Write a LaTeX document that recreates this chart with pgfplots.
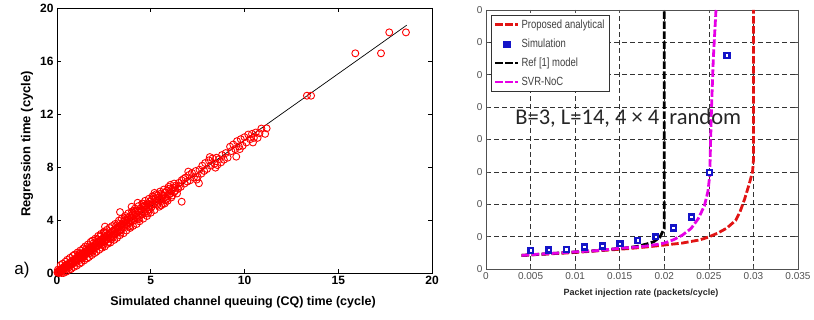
\documentclass[border=0pt]{standalone}
\usepackage{fontspec}
\setmainfont{Liberation Sans}
\setsansfont{Liberation Sans}
\newfontfamily\calfont{Carlito}
\usepackage{pgfplots}
\usepackage{pgfplotstable}
\pgfplotsset{compat=1.18}
\definecolor{simblue}{RGB}{20,20,200}
\definecolor{svrmag}{RGB}{230,0,230}
\definecolor{anared}{RGB}{225,20,20}
\definecolor{tickgray}{RGB}{80,80,80}
\pgfplotsset{
    longline legend/.style={legend image code/.code={\draw[##1] (0pt,0pt) -- (23pt,0pt);}},
    onemark legend/.style={legend image code/.code={\draw[##1] plot coordinates {(11.5pt,0pt)};}},
}
\newcommand{\tall}[1]{\scalebox{1}[1.25]{#1}}

% regression scatter: simulated CQ time vs regression time
\pgfplotstableread{
x y
0.02 0.05
0.05 0.02
0.05 0.25
0.08 0.15
0.10 0.04
0.12 0.01
0.13 0.20
0.15 0.10
0.18 0.06
0.20 0.28
0.20 0.60
0.23 0.18
0.25 0.12
0.25 0.00
0.28 0.35
0.30 0.22
0.30 0.70
0.33 0.30
0.35 0.45
0.35 0.00
0.38 0.28
0.40 0.40
0.43 0.52
0.45 0.36
0.45 0.85
0.48 0.44
0.50 0.60
0.50 0.10
0.53 0.48
0.55 1.00
0.56 0.55
0.60 0.70
0.60 0.40
0.63 0.52
0.65 0.25
0.66 0.66
0.70 0.80
0.70 1.15
0.73 0.62
0.75 0.30
0.76 0.74
0.80 0.90
0.80 0.65
0.83 0.70
0.85 1.30
0.86 0.84
0.90 1.00
0.90 0.45
0.93 0.82
0.95 1.40
0.96 0.95
1.00 1.10
1.00 0.80
1.03 0.92
1.05 0.55
1.06 1.15
1.10 1.02
1.10 1.55
1.13 1.25
1.15 1.40
1.16 1.08
1.20 1.30
1.20 0.70
1.20 1.45
1.23 1.12
1.25 1.00
1.25 1.70
1.26 1.35
1.30 1.20
1.30 0.80
1.33 1.45
1.35 1.10
1.36 1.28
1.40 1.50
1.40 1.85
1.43 1.32
1.45 0.95
1.45 1.25
1.46 1.58
1.50 1.40
1.50 2.00
1.53 1.62
1.55 1.80
1.56 1.48
1.60 1.70
1.60 1.10
1.63 1.52
1.65 2.15
1.66 1.78
1.70 1.60
1.70 1.20
1.70 2.00
1.73 1.85
1.75 1.50
1.76 1.66
1.80 1.92
1.80 2.35
1.83 1.72
1.85 1.35
1.86 1.98
1.90 1.80
1.90 2.45
1.90 1.60
1.93 2.05
1.95 2.25
1.96 1.86
2.00 2.12
2.00 1.50
2.03 1.92
2.05 2.60
2.06 2.20
2.10 2.00
2.10 1.60
2.13 2.30
2.15 2.55
2.16 2.05
2.20 2.35
2.20 2.80
2.23 2.10
2.25 1.75
2.26 2.42
2.30 2.18
2.30 2.75
2.33 2.50
2.35 2.95
2.36 2.25
2.40 2.55
2.40 1.90
2.40 2.15
2.43 2.30
2.45 2.10
2.46 2.62
2.50 2.38
2.50 3.10
2.53 2.70
2.55 3.05
2.55 2.00
2.56 2.42
2.56 3.50
2.60 2.75
2.60 3.00
2.63 2.50
2.65 3.25
2.66 2.85
2.70 2.55
2.70 2.20
2.73 2.90
2.75 2.35
2.76 2.62
2.80 3.00
2.80 3.40
2.83 2.68
2.85 2.30
2.86 3.05
2.90 2.75
2.90 2.55
2.93 3.12
2.95 3.55
2.96 2.80
3.00 3.20
3.00 2.70
3.03 2.88
3.05 2.50
3.06 3.25
3.10 2.95
3.10 3.70
3.13 3.35
3.15 3.55
3.16 3.00
3.20 3.40
3.20 2.65
3.23 3.08
3.25 3.75
3.26 3.48
3.30 3.15
3.30 3.95
3.33 3.55
3.35 2.85
3.36 3.20
3.36 4.60
3.40 3.60
3.40 3.05
3.43 3.28
3.45 4.10
3.46 3.65
3.50 3.70
3.53 3.40
3.55 3.00
3.56 3.90
3.60 3.55
3.60 4.15
3.63 4.00
3.65 4.30
3.66 3.70
3.70 3.95
3.70 3.20
3.73 3.60
3.76 4.15
3.80 3.85
3.80 4.50
3.83 4.05
3.85 3.50
3.86 3.75
3.90 4.30
3.90 3.40
3.93 3.95
3.96 4.20
3.98 5.00
4.00 3.90
4.00 4.65
4.03 4.45
4.05 3.55
4.06 4.10
4.10 4.35
4.10 4.70
4.13 4.00
4.15 4.85
4.16 4.60
4.20 4.25
4.23 4.50
4.25 3.70
4.26 4.15
4.30 4.70
4.30 5.30
4.33 4.40
4.35 5.05
4.35 4.05
4.36 4.62
4.40 4.30
4.40 3.90
4.43 4.85
4.46 4.55
4.50 4.75
4.53 4.40
4.55 5.25
4.56 5.00
4.60 4.65
4.60 4.10
4.60 5.20
4.63 4.90
4.66 4.50
4.70 5.10
4.70 5.45
4.73 4.80
4.76 5.05
4.80 4.65
4.80 4.30
4.83 5.25
4.85 4.50
4.86 4.95
4.90 5.20
4.90 5.60
4.93 4.80
4.96 5.40
5.00 5.10
5.00 4.55
5.05 5.55
5.05 5.00
5.10 5.30
5.10 5.80
5.15 5.75
5.20 5.20
5.20 6.05
5.20 4.75
5.25 5.60
5.30 5.45
5.30 5.95
5.35 5.85
5.35 5.15
5.40 5.30
5.45 5.70
5.45 5.00
5.50 5.55
5.50 6.15
5.55 6.00
5.55 5.10
5.60 5.45
5.60 5.90
5.65 5.85
5.65 5.20
5.70 5.65
5.70 6.30
5.75 6.05
5.75 5.25
5.80 5.50
5.85 6.20
5.85 5.60
5.90 5.80
5.90 5.45
5.95 6.35
5.95 6.50
6.00 5.95
6.05 6.65
6.05 6.00
6.10 6.25
6.10 5.70
6.15 5.85
6.20 6.45
6.25 6.75
6.25 6.10
6.30 6.20
6.35 6.60
6.40 6.00
6.45 6.35
6.50 6.80
6.50 6.55
6.60 6.50
6.65 7.00
6.65 5.38
6.75 7.10
6.80 6.75
6.85 7.20
6.95 6.90
7.00 7.65
7.05 7.40
7.10 7.00
7.20 7.55
7.30 7.20
7.40 7.70
7.45 7.05
7.50 7.25
7.57 6.77
7.60 7.80
7.70 7.50
7.75 8.10
7.85 7.70
7.90 8.30
8.00 7.85
8.10 8.50
8.15 8.75
8.20 8.10
8.30 8.65
8.40 8.25
8.45 7.95
8.50 8.70
8.55 8.15
8.65 8.60
8.75 8.35
8.80 8.90
8.90 8.55
9.00 9.05
9.10 8.70
9.23 9.53
9.30 9.20
9.40 9.70
9.50 9.35
9.56 8.78
9.60 9.95
9.70 9.55
9.75 9.35
9.80 10.10
9.90 9.60
10.00 10.25
10.10 9.85
10.20 10.45
10.30 10.10
10.40 10.50
10.45 9.85
10.50 10.20
10.60 10.60
10.70 10.20
10.80 10.55
10.90 10.90
11.10 10.50
11.18 10.92
13.33 13.38
13.55 13.38
15.91 16.58
17.28 16.58
17.72 18.16
18.61 18.16
}\scatterdata

\begin{document}
\begin{tikzpicture}[x=1pt,y=1pt]
\useasboundingbox (0,0) rectangle (814,320);

% ---------- left panel ----------
\begin{axis}[
    at={(57pt,47pt)}, anchor=south west,
    scale only axis, width=375pt, height=265pt,
    xmin=0, xmax=20, ymin=0, ymax=20,
    xtick={0,5,10,15,20}, ytick={0,4,8,12,16,20},
    tick align=inside, major tick length=4pt,
    tick style={black, line width=0.6pt},
    axis line style={black, line width=0.6pt},
    ticklabel style={font=\fontsize{12}{12}\selectfont\bfseries},
    /pgf/number format/assume math mode=true,
    clip=false,
]
\addplot[only marks, mark=o, mark size=3.5pt, draw=red, mark options={line width=0.9pt}]
    table[x=x, y=y] {\scatterdata};
\addplot[black, line width=0.7pt] coordinates {(0,0) (18.65,18.7)};
\end{axis}
\node[rotate=90, font=\fontsize{13}{13}\selectfont\bfseries] at (27,176) {Regression time (cycle)};
\node[font=\fontsize{12.5}{13}\selectfont\bfseries] at (243,18) {Simulated channel queuing (CQ) time (cycle)};
\node[font=\fontsize{17}{17}\selectfont] at (22,50) {a)};

% ---------- right panel ----------
\begin{axis}[
    at={(486pt,51pt)}, anchor=south west,
    scale only axis, width=312pt, height=259pt,
    xmin=0, xmax=0.035, ymin=0, ymax=8,
    xtick={0,0.005,0.01,0.015,0.02,0.025,0.03,0.035},
    xticklabels={0,0.005,0.01,0.015,0.02,0.025,0.03,0.035},
    ytick={0,1,2,3,4,5,6,7,8},
    yticklabels={0,0,0,0,0,0,0,0,0},
    scaled x ticks=false,
    tick align=inside, major tick length=3pt,
    tick style={tickgray, line width=0.5pt},
    axis line style={tickgray, line width=0.7pt},
    grid=major,
    major grid style={black!80, dashed, dash pattern=on 5pt off 3pt, line width=0.6pt},
    ticklabel style={font=\fontsize{10}{10}\selectfont, text=tickgray},
    /pgf/number format/assume math mode=true,
    legend style={at={(rel axis cs:0.016,0.981)}, anchor=north west,
        draw=black!80, line width=0.6pt, fill=white,
        font=\fontsize{9.5}{10}\selectfont, text=black!75,
        row sep=5pt, inner sep=2.5pt},
    legend cell align=left,
]
\addplot[anared, line width=2.8pt, dash pattern=on 7.5pt off 2.5pt, longline legend]
    coordinates {
    (0.004,0.42) (0.006,0.45) (0.008,0.48) (0.010,0.51) (0.012,0.55)
    (0.014,0.59) (0.016,0.63) (0.018,0.68) (0.020,0.74) (0.022,0.80)
    (0.024,0.90) (0.025,0.99) (0.026,1.11) (0.027,1.26) (0.028,1.50)
    (0.0285,1.77) (0.029,2.15) (0.0295,2.60) (0.0299,3.00) (0.0300,3.35)
    (0.0300,8.0)};
\addlegendentry{\tall{Proposed analytical}}
\addplot[only marks, mark=square*, mark size=3.1pt, simblue,
    mark options={solid, fill=simblue, draw=simblue, line width=0.4pt}, onemark legend]
    coordinates {
    (0.005,0.576) (0.007,0.596) (0.009,0.617) (0.011,0.689) (0.013,0.720)
    (0.015,0.790) (0.017,0.895) (0.019,1.008) (0.021,1.275) (0.023,1.614)
    (0.025,2.990) (0.027,6.600)};
\addlegendentry{\tall{Simulation}}
\addplot[black, line width=2.8pt, dash pattern=on 7.5pt off 2.5pt, longline legend]
    coordinates {
    (0.004,0.42) (0.008,0.49) (0.012,0.56) (0.016,0.66) (0.017,0.70)
    (0.018,0.77) (0.0188,0.84) (0.0195,0.98) (0.0200,1.25) (0.0200,8.0)};
\addlegendentry{\tall{Ref [1] model}}
\addplot[svrmag, line width=2.8pt, dash pattern=on 7.5pt off 2.5pt, longline legend]
    coordinates {
    (0.004,0.42) (0.006,0.46) (0.008,0.49) (0.010,0.53) (0.012,0.56)
    (0.014,0.61) (0.015,0.64) (0.016,0.66) (0.017,0.68) (0.018,0.71)
    (0.019,0.75) (0.020,0.80) (0.021,0.90) (0.022,1.04) (0.023,1.25)
    (0.0238,1.55) (0.0245,1.95) (0.0249,2.40) (0.0251,2.90) (0.0252,4.0)
    (0.0253,5.0) (0.0255,6.5) (0.0258,8.0)};
\addlegendentry{\tall{SVR-NoC}}
% white centres of the simulation squares
\addplot[only marks, mark=square*, mark size=0.8pt, forget plot,
    mark options={fill=white, draw=white, line width=0.1pt}]
    coordinates {
    (0.005,0.576) (0.007,0.596) (0.009,0.617) (0.011,0.689) (0.013,0.720)
    (0.015,0.790) (0.017,0.895) (0.019,1.008) (0.021,1.275) (0.023,1.614)
    (0.025,2.990) (0.027,6.600)};
\node[anchor=west, font=\calfont\fontsize{22.5}{22}\selectfont, text=black!85]
    at (axis cs:0.0029,4.66) {B=3, L=14, 4 × 4\ \ random};
\end{axis}
\node[font=\fontsize{9}{9}\selectfont\bfseries, text=black!85] at (641,27) {Packet injection rate (packets/cycle)};
\end{tikzpicture}
\end{document}
